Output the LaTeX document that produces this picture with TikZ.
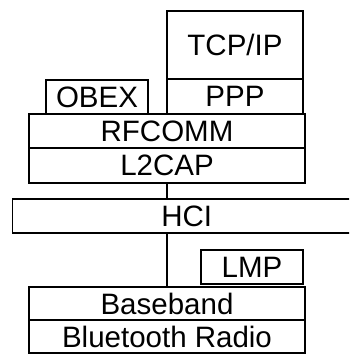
\documentclass[tikz,border=0pt]{standalone}
\usepackage{fontspec}
\setmainfont{Liberation Sans}
\usepackage{tikz}
\usetikzlibrary{positioning,calc}

\begin{document}
\begin{tikzpicture}[
    x=1pt,
    y=-1pt,
    layer/.style={draw, line width=1.4pt, inner sep=0pt, font=\fontsize{29.5}{30}\selectfont, minimum width=276pt, minimum height=34pt},
    small/.style={layer, minimum width=102pt},
    link/.style={line width=1.4pt}
]
\useasboundingbox (0,0) rectangle (349,354);
\clip (0,0) rectangle (349,354);

% upper protocols
\node[layer, minimum width=136pt, minimum height=68pt] (tcpip) at (235,45) {TCP/IP};
\node[layer, minimum width=136pt, minimum height=35pt] (ppp) at (235,96.5) {PPP};
\node[small] (obex) at (97,97) {OBEX};
\node[layer] (rfcomm) at (167,131) {RFCOMM};
\node[layer, minimum height=35pt] (l2cap) at (167,165.5) {L2CAP};

% host controller interface
\node[layer, minimum width=360pt, anchor=west] (hci) at (12,216) {\hspace{-12pt}HCI};

% lower layers
\node[small] (lmp) at (252,267) {LMP};
\node[layer, minimum height=33pt] (baseband) at (167,303.5) {Baseband};
\node[layer, minimum height=33pt] (radio) at (167,336.5) {Bluetooth Radio};

\draw[link] (l2cap.south) -- (l2cap.south |- hci.north);
\draw[link] (baseband.north |- hci.south) -- (baseband.north);
\end{tikzpicture}
\end{document}
